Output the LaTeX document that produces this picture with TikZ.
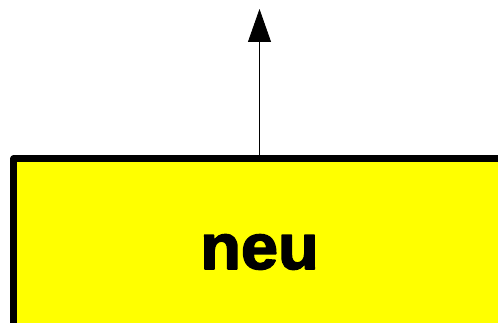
\documentclass[tikz,border=0pt]{standalone}
\usepackage{fontspec}
\setmainfont{Liberation Sans}
\newfontfamily\heavyfont[FakeBold=2.6,FakeStretch=1.04]{Liberation Sans Bold}
\usetikzlibrary{arrows.meta}
\definecolor{boxyellow}{RGB}{255,255,0}

\begin{document}
\begin{tikzpicture}[x=1pt,y=-1pt]
\useasboundingbox (0,0) rectangle (498,323);
\clip (0,0) rectangle (498,323);
% box
\node[draw=black,fill=boxyellow,line width=7pt,line join=round,
  minimum width=492pt,minimum height=186pt,inner sep=0pt,
  font=\fontsize{64}{64}\heavyfont] (neu) at (259.5,252) {neu};
% arrow
\coordinate (top) at (259.5,9);
\draw[line width=0.8pt,-{Triangle[length=33pt,width=23pt]}] (neu.north) -- (top);
\end{tikzpicture}
\end{document}
